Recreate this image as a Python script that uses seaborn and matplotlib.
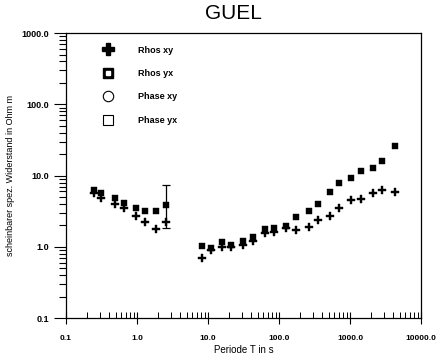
import numpy as np
import pandas as pd
import seaborn as sns
import matplotlib.pyplot as plt
from matplotlib.lines import Line2D
from matplotlib.ticker import FixedLocator, NullFormatter

# periods (s)
periode = [0.245, 0.313, 0.482, 0.653, 0.977, 1.31, 1.87, 2.6,
           8.1, 10.9, 15.9, 20.9, 31.5, 42.5, 63.8, 85.5, 126, 172,
           261, 351, 518, 703, 1033, 1409, 2100, 2790, 4260]
# apparent resistivity (Ohm m)
rhos_yx = [6.25, 5.62, 4.78, 4.15, 3.46, 3.18, 3.18, 3.85,
           1.04, 0.96, 1.17, 1.08, 1.21, 1.37, 1.76, 1.85, 1.99, 2.64,
           3.18, 3.94, 5.86, 7.92, 9.16, 11.7, 12.9, 15.9, 26.2]
rhos_xy = [5.62, 4.78, 3.98, 3.46, 2.70, 2.25, 1.76, 2.25,
           0.69, 0.90, 0.99, 0.99, 1.08, 1.21, 1.55, 1.60, 1.83, 1.72,
           1.89, 2.37, 2.70, 3.50, 4.53, 4.63, 5.62, 6.25, 5.93]
# single error bar at T = 2.6 s
err_t = [2.6]
err_y = [3.85]
err_lo = [1.82]
err_hi = [7.35]

df = pd.DataFrame({"T": periode, "yx": rhos_yx, "xy": rhos_xy})

sns.set_style("ticks")
plt.rcParams["font.family"] = ["Liberation Sans", "DejaVu Sans"]
plt.rcParams["text.color"] = "black"
plt.rcParams["axes.labelcolor"] = "black"
plt.rcParams["xtick.color"] = "black"
plt.rcParams["ytick.color"] = "black"

fig, ax = plt.subplots(figsize=(4.4, 3.64), dpi=100)
fig.subplots_adjust(left=0.150, right=0.957, bottom=0.126, top=0.909)
ax.set_xscale("log")
ax.set_yscale("log")

ax.errorbar(err_t, err_y,
            yerr=[[err_y[0] - err_lo[0]], [err_hi[0] - err_y[0]]],
            fmt="none", ecolor="black", elinewidth=0.9, capsize=3, capthick=0.9)

sns.scatterplot(data=df, x="T", y="xy", marker="P", s=38, color="black",
                edgecolor="black", linewidth=0.3, ax=ax, legend=False, zorder=3)
sns.scatterplot(data=df, x="T", y="yx", marker="s", s=24, color="black",
                edgecolor="black", linewidth=0.3, ax=ax, legend=False, zorder=3)

ax.set_xlim(0.1, 10000)
ax.set_ylim(0.1, 1000)

xt = [0.1, 1, 10, 100, 1000, 10000]
yt = [0.1, 1, 10, 100, 1000]
subs = np.arange(2, 10)
ax.xaxis.set_major_locator(FixedLocator(xt))
ax.yaxis.set_major_locator(FixedLocator(yt))
ax.xaxis.set_minor_locator(FixedLocator([s * d for d in xt[:-1] for s in subs]))
ax.yaxis.set_minor_locator(FixedLocator([s * d for d in yt[:-1] for s in subs]))
ax.xaxis.set_minor_formatter(NullFormatter())
ax.yaxis.set_minor_formatter(NullFormatter())
ax.set_xticklabels(["0.1", "1.0", "10.0", "100.0", "1000.0", "10000.0"],
                   fontsize=6, fontweight="bold")
ax.set_yticklabels(["0.1", "1.0", "10.0", "100.0", "1000.0"],
                   fontsize=6.5, fontweight="bold")

ax.tick_params(axis="x", which="major", direction="inout", length=9, width=0.8, pad=8)
ax.tick_params(axis="x", which="minor", direction="in", length=4, width=0.7)
ax.tick_params(axis="y", which="major", direction="out", length=9, width=0.8, pad=3)
ax.tick_params(axis="y", which="minor", direction="out", length=5, width=0.8, left=True)

for sp in ax.spines.values():
    sp.set_visible(True)
    sp.set_linewidth(0.9)
    sp.set_color("black")

ax.set_xlabel("Periode T in s", fontsize=7, labelpad=2)
ax.set_ylabel("scheinbarer spez. Widerstand in Ohm m", fontsize=6.5, labelpad=5)
fig.suptitle("GUEL", fontsize=15, x=0.53, y=0.99)

sq_black = Line2D([], [], marker="s", color="black", linestyle="none", markersize=7)
sq_dot = Line2D([], [], marker="s", color="white", linestyle="none", markersize=2.2)
handles = [
    Line2D([], [], marker="P", color="black", linestyle="none", markersize=8),
    (sq_black, sq_dot),
    Line2D([], [], marker="o", color="black", markerfacecolor="white",
           linestyle="none", markersize=7.5, markeredgewidth=0.8),
    Line2D([], [], marker="s", color="black", markerfacecolor="white",
           linestyle="none", markersize=7.5, markeredgewidth=0.8),
]
labels = ["Rhos xy", "Rhos yx", "Phase xy", "Phase yx"]
ax.legend(handles, labels, loc="upper left", bbox_to_anchor=(0.07, 0.985),
          frameon=False, handletextpad=2.3, labelspacing=1.6,
          prop={"weight": "bold", "size": 6.5})

fig.savefig("out.png", dpi=100)
